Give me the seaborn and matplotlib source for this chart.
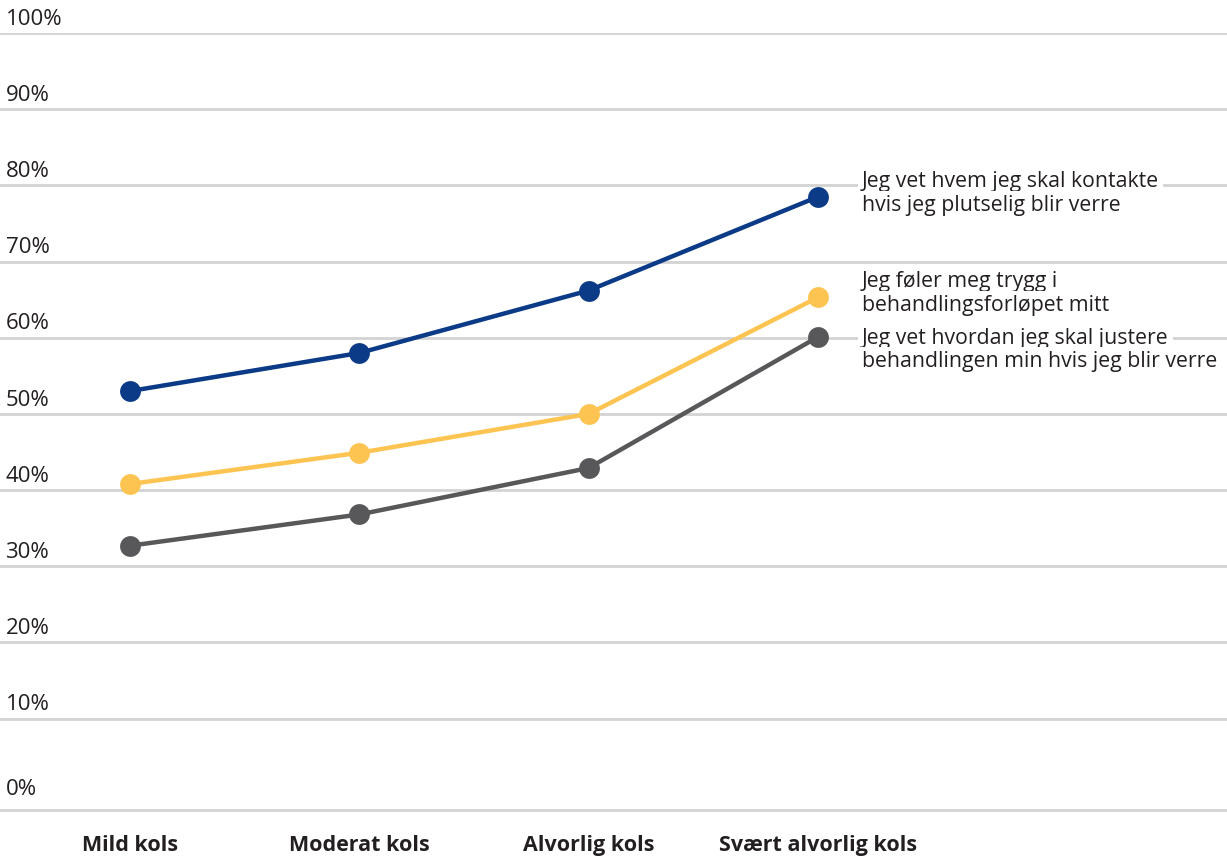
import pandas as pd
import seaborn as sns
import matplotlib.pyplot as plt

# Data
kategorier = ['Mild kols', 'Moderat kols', 'Alvorlig kols', 'Svært alvorlig kols']
kontakte = [53, 58, 66.2, 78.5]
trygg = [40.8, 44.9, 50, 65.3]
justere = [32.7, 36.8, 42.9, 60.1]
serier = ['Jeg vet hvem jeg skal kontakte\nhvis jeg plutselig blir verre',
          'Jeg føler meg trygg i\nbehandlingsforløpet mitt',
          'Jeg vet hvordan jeg skal justere\nbehandlingen min hvis jeg blir verre']
farger = ['#0b3a87', '#fdc451', '#58585a']
yticks = [0, 10, 20, 30, 40, 50, 60, 70, 80, 90, 100]

df = pd.DataFrame({
    'kategori': kategorier * 3,
    'andel': kontakte + trygg + justere,
    'serie': [s for s in serier for _ in kategorier],
})

sns.set_theme(style='white')
plt.rcParams['font.family'] = ['Open Sans', 'DejaVu Sans']

fig = plt.figure(figsize=(12.27, 8.58), dpi=100)
ax = fig.add_axes([0, 0.0559, 1, 0.9056])

# Gridlines
for t in yticks[1:]:
    ax.axhline(t, color='#d3d3d3', lw=2, zorder=0)

sns.lineplot(data=df, x='kategori', y='andel', hue='serie', palette=farger,
             marker='o', markersize=15, markeredgewidth=0, linewidth=3.2,
             legend=False, ax=ax, zorder=3)

ax.set_xlim(-0.567, 4.784)
ax.set_ylim(-2, 100)
ax.set_xlabel('')
ax.set_ylabel('')
ax.set_yticks([])
ax.set_xticks(range(len(kategorier)))
ax.set_xticklabels(kategorier, fontsize=15.5, fontweight='bold', color='#231f20')
ax.tick_params(axis='x', length=0, pad=18)

for s in ['top', 'left', 'right']:
    ax.spines[s].set_visible(False)
ax.spines['bottom'].set_color('#d3d3d3')
ax.spines['bottom'].set_linewidth(2)

# Y labels above each gridline
for t in yticks:
    y = -2 if t == 0 else t
    ax.annotate(f'{t}%', xy=(0, y), xycoords=('axes fraction', 'data'),
                xytext=(4, 10 if t else 14.5), textcoords='offset points',
                ha='left', va='center', fontsize=16, color='#231f20')

# Series labels on the right
label_y = [78.9, 65.8, 58.4]
for txt, yv in zip(serier, label_y):
    lines = txt.split('\n')
    for i, ln in enumerate(lines):
        ax.text(3.192, yv + (1.55 if i == 0 else -1.55), ln, ha='left', va='center',
                fontsize=15.3, color='#231f20', zorder=4,
                bbox=dict(boxstyle='square,pad=0.2', fc='white', ec='none'))

fig.savefig('out.png', dpi=100)
